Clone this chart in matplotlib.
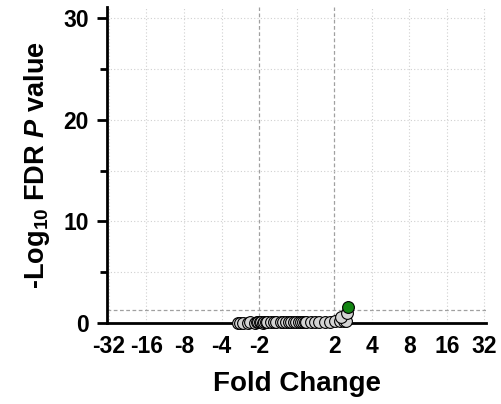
import matplotlib
matplotlib.use('Agg')
import matplotlib.pyplot as plt
from matplotlib.ticker import FixedLocator, MultipleLocator

plt.rcParams['font.family'] = 'Liberation Sans'
plt.rcParams['font.weight'] = 'bold'
plt.rcParams['mathtext.fontset'] = 'custom'
plt.rcParams['mathtext.rm'] = 'Liberation Sans:bold'
plt.rcParams['mathtext.bf'] = 'Liberation Sans:bold'
plt.rcParams['mathtext.it'] = 'Liberation Sans:italic:bold'

# log2 fold change and -log10 FDR for each gene
log2_fc = [-1.57, -1.50, -1.43, -1.30, -1.25, -1.12, -1.06, -1.03, -0.98, -0.94,
           -0.90, -0.87, -0.82, -0.78, -0.68, -0.60, -0.54, -0.42, -0.36, -0.28,
           -0.20, -0.14, -0.06, -0.01, 0.06, 0.12, 0.18, 0.22, 0.26, 0.37,
           0.48, 0.59, 0.75, 0.88, 1.01, 1.15, 1.26, 1.32, 1.19, 1.34]
neg_log_fdr = [0.02, 0.03, 0.04, 0.03, 0.05, 0.04, 0.06, 0.05, 0.05, 0.06,
               0.04, 0.07, 0.05, 0.08, 0.06, 0.05, 0.07, 0.06, 0.08, 0.07,
               0.05, 0.09, 0.06, 0.08, 0.07, 0.06, 0.08, 0.09, 0.10, 0.08,
               0.12, 0.10, 0.14, 0.12, 0.15, 0.18, 0.20, 0.22, 0.62, 0.95]
# significant gene
sig_fc = [1.37]
sig_fdr = [1.55]

x_ticks = [-5, -4, -3, -2, -1, 1, 2, 3, 4, 5]
x_labels = ['-32', '-16', '-8', '-4', '-2', '2', '4', '8', '16', '32']
fdr_cut = 1.3

fig = plt.figure(figsize=(5.01, 4.04), dpi=100)
ax = fig.add_axes([0.2136, 0.2005, 0.757, 0.7825])

# grid
for x in range(-5, 6):
    if abs(x) == 1:
        ax.axvline(x, color='#a0a0a0', ls=(0, (3, 2)), lw=0.9, zorder=0)
    else:
        ax.axvline(x, color='#d0d0d0', ls=(0, (1, 2)), lw=0.8, zorder=0)
for y in range(0, 31, 5):
    ax.axhline(y, color='#d0d0d0', ls=(0, (1, 2)), lw=0.8, zorder=0)
ax.axhline(fdr_cut, color='#a0a0a0', ls=(0, (3, 2)), lw=0.9, zorder=0)

ax.scatter(log2_fc, neg_log_fdr, s=72, c='#d3d3d3', edgecolors='black',
           linewidths=0.8, clip_on=False, zorder=3)
ax.scatter(sig_fc, sig_fdr, s=72, c='#138513', edgecolors='black',
           linewidths=0.8, clip_on=False, zorder=4)

ax.set_xlim(-5.05, 5.05)
ax.set_ylim(0, 31.1)

ax.xaxis.set_major_locator(FixedLocator(x_ticks))
ax.set_xticklabels(x_labels)
ax.yaxis.set_major_locator(FixedLocator([0, 10, 20, 30]))
ax.yaxis.set_minor_locator(MultipleLocator(5))

ax.spines['top'].set_visible(False)
ax.spines['right'].set_visible(False)
ax.spines['left'].set_linewidth(2)
ax.spines['bottom'].set_linewidth(2)

ax.tick_params(axis='x', length=0, pad=9, labelsize=16.5)
ax.tick_params(axis='y', which='major', length=7, width=2, labelsize=16.5, pad=6)
ax.tick_params(axis='y', which='minor', length=5, width=2)

ax.set_xlabel('Fold Change', fontsize=20, fontweight='bold', labelpad=9)
ax.set_ylabel(r'-Log$_{10}$ FDR $P$ value', fontsize=19.5, fontweight='bold', labelpad=8)

fig.savefig('out.png', dpi=100)
